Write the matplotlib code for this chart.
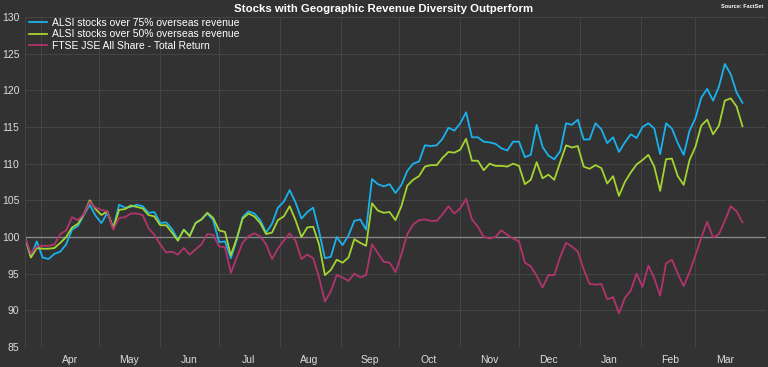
import pandas as pd
import matplotlib
matplotlib.use('Agg')
import matplotlib.pyplot as plt
import matplotlib.dates as mdates

dates = pd.date_range('2016-03-24', periods=123, freq='3D')

alsi_75 = [100.0, 97.3, 99.4, 97.2, 97.0, 97.7, 98.0, 99.0, 101.0, 101.5,
           103.0, 104.4, 102.9, 101.9, 103.3, 101.2, 104.4, 104.0, 104.1, 104.4,
           104.2, 103.3, 103.4, 101.9, 102.0, 101.1, 99.6, 101.0, 100.2, 101.9,
           102.4, 103.2, 102.3, 99.3, 99.4, 97.1, 99.6, 102.7, 103.5, 103.2,
           102.3, 100.6, 101.8, 104.0, 104.8, 106.4, 104.7, 102.5, 103.4, 104.0,
           100.8, 97.1, 97.3, 100.0, 98.9, 100.2, 102.2, 102.4, 101.0, 107.9,
           107.2, 106.9, 107.2, 106.0, 107.1, 109.0, 110.0, 110.3, 112.5, 112.4,
           112.5, 113.4, 114.9, 114.5, 115.5, 117.0, 113.6, 113.6, 113.0, 112.9,
           112.7, 112.1, 111.8, 113.0, 113.0, 110.9, 111.2, 115.3, 112.3, 111.1,
           110.6, 111.7, 115.5, 115.3, 116.0, 113.3, 113.3, 115.5, 114.7, 112.8,
           113.6, 111.6, 112.9, 114.0, 113.5, 115.0, 115.5, 114.8, 111.3, 115.5,
           114.8, 112.8, 111.2, 114.5, 116.2, 119.0, 120.2, 118.6, 120.5, 123.6,
           122.2, 119.7, 118.3]

alsi_50 = [100.0, 97.2, 98.5, 98.4, 98.4, 98.5, 99.2, 100.0, 101.3, 101.8,
           103.1, 105.0, 103.8, 103.0, 103.5, 101.2, 103.7, 103.8, 104.3, 104.1,
           103.9, 103.0, 102.8, 101.6, 101.6, 100.6, 99.5, 101.0, 100.1, 101.9,
           102.4, 103.3, 102.6, 100.9, 100.7, 97.5, 99.8, 102.5, 103.2, 102.8,
           101.9, 100.4, 100.6, 102.3, 102.8, 104.2, 102.3, 100.0, 101.3, 101.4,
           99.0, 94.8, 95.5, 96.9, 96.5, 97.2, 99.7, 99.2, 98.8, 104.6,
           103.6, 103.3, 103.4, 102.3, 104.2, 107.0, 107.8, 108.3, 109.6, 109.8,
           109.8, 110.8, 111.6, 111.5, 111.9, 113.4, 110.4, 110.4, 109.1, 110.0,
           109.7, 109.7, 109.6, 110.0, 109.7, 107.2, 107.8, 110.2, 108.0, 108.5,
           107.8, 110.2, 112.5, 112.2, 112.4, 109.6, 109.3, 109.8, 109.4, 107.3,
           108.3, 105.6, 107.5, 108.8, 109.9, 110.5, 111.2, 109.6, 106.3, 110.6,
           110.7, 108.3, 107.1, 110.5, 112.3, 115.2, 116.0, 114.0, 115.2, 118.6,
           118.9, 117.8, 115.1]

jse_all = [100.0, 97.7, 98.7, 98.8, 98.8, 99.0, 100.4, 100.9, 102.7, 102.3,
           103.1, 104.8, 104.0, 103.7, 103.5, 101.0, 102.6, 102.7, 103.2, 103.2,
           103.0, 101.2, 100.3, 99.0, 97.9, 98.0, 97.6, 98.5, 97.6, 98.3,
           99.0, 100.4, 100.3, 98.7, 98.6, 95.1, 97.2, 99.2, 100.1, 100.5,
           100.1, 99.0, 97.0, 98.4, 99.5, 100.5, 99.5, 97.0, 97.6, 97.1,
           94.5, 91.2, 92.6, 94.8, 94.5, 94.0, 95.0, 94.5, 94.8, 99.0,
           97.8, 96.6, 96.5, 95.2, 97.6, 100.4, 101.7, 102.3, 102.4, 102.2,
           102.2, 103.1, 104.2, 103.2, 103.9, 105.2, 102.4, 101.4, 100.0, 99.8,
           100.0, 100.9, 100.3, 99.8, 99.4, 96.5, 96.0, 94.7, 93.1, 94.8,
           94.8, 97.3, 99.2, 98.7, 98.0, 95.6, 93.6, 93.5, 93.6, 91.5,
           91.8, 89.6, 91.7, 92.7, 95.0, 93.2, 96.1, 94.4, 92.0, 96.4,
           96.9, 95.0, 93.3, 95.2, 97.5, 99.9, 102.1, 99.9, 100.4, 102.2,
           104.2, 103.5, 102.0]

labels = ['ALSI stocks over 75% overseas revenue',
          'ALSI stocks over 50% overseas revenue',
          'FTSE JSE All Share - Total Return']
colors = ['#19b2ec', '#a3d430', '#b2346c']

plt.rcParams['font.family'] = ['Liberation Sans', 'DejaVu Sans']

bg = '#323232'
fig = plt.figure(figsize=(7.68, 3.67), dpi=100, facecolor=bg)
ax = fig.add_axes([25 / 768, 1 - 347 / 367, 741 / 768, 330 / 367])
ax.set_facecolor(bg)

for ys, lab, c in zip([alsi_75, alsi_50, jse_all], labels, colors):
    ax.plot(dates, ys, color=c, lw=1.3, label=lab)

ax.axhline(100, color='#8c8c8c', lw=0.9, zorder=1)

ax.set_ylim(85, 130)
ax.set_yticks(range(85, 131, 5))
ax.set_xlim(pd.Timestamp('2016-03-24'), pd.Timestamp('2017-04-06'))

ax.xaxis.set_major_locator(mdates.MonthLocator())
ax.xaxis.set_major_formatter(plt.NullFormatter())
ax.xaxis.set_minor_locator(mdates.MonthLocator(bymonthday=16))
ax.xaxis.set_minor_formatter(mdates.DateFormatter('%b'))

ax.grid(True, which='major', color='#444444', lw=0.8)
ax.get_xgridlines()[-1].set_visible(False)
ax.set_axisbelow(True)
ax.tick_params(axis='both', which='both', length=0, colors='#dddddd', labelsize=7.5)
ax.tick_params(axis='y', pad=4)
ax.tick_params(axis='x', which='minor', pad=6)

for s in ['top', 'right', 'bottom']:
    ax.spines[s].set_visible(False)
ax.spines['left'].set_color('#444444')

leg = ax.legend(loc='upper left', frameon=False, fontsize=7.5, handlelength=1.7,
                labelspacing=0.15, borderaxespad=0.0, handletextpad=0.5,
                labelcolor='white', bbox_to_anchor=(0.0, 1.01))

fig.text(0.5, 1 - 9 / 367, 'Stocks with Geographic Revenue Diversity Outperform',
         color='white', fontsize=8.2, fontweight='bold', ha='center', va='center')
fig.text(0.994, 1 - 6 / 367, 'Source: FactSet', color='white', fontsize=4,
         fontweight='bold', ha='right', va='center')

fig.savefig('out.png', dpi=100, facecolor=bg)
